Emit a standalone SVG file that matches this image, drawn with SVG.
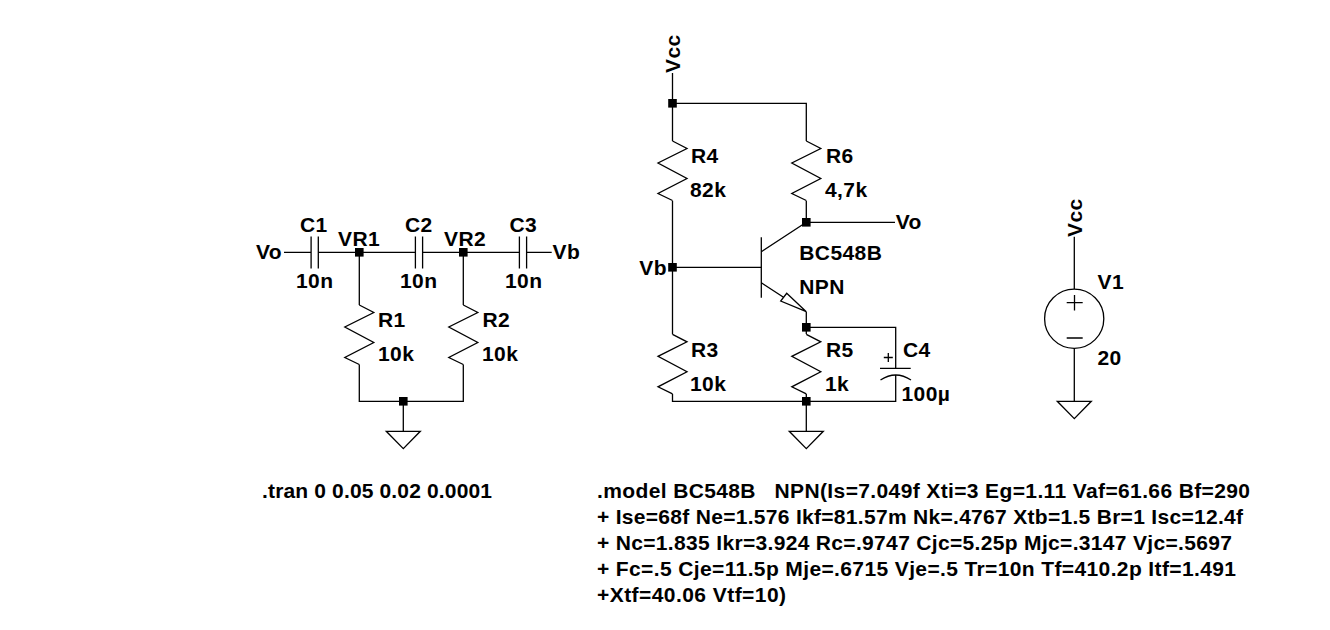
<svg xmlns="http://www.w3.org/2000/svg" width="1330" height="630" viewBox="0 0 1330 630">
<style>
text{font-family:"Liberation Sans",Arial,sans-serif;font-weight:bold;font-size:21px;letter-spacing:.4px;fill:#000;white-space:pre}
#directives text{letter-spacing:0}
.s{fill:none;stroke:#000;stroke-width:1.3}
.d{fill:#000;stroke:none}
</style>
<defs>
<path id="res" class="s" d="M0 0L14.5 7.5L-14.5 22L14.5 37.5L-14.5 52.5L0 59.5"/>
<path id="gnd" class="s" d="M-17 0H17L0 17.3Z"/>
<path id="cap" class="s" d="M-3.6 -16V16M3.6 -16V16"/>
<rect id="dot" class="d" x="-4.3" y="-4.3" width="8.6" height="8.6"/>
</defs>
<rect width="1330" height="630" fill="#fff"/>
<g id="connectors">
<path class="s" d="M284 252.3H311M318.4 252.3H415.7M422.4 252.3H519.3M526.7 252.3H551.7"/>
<path class="s" d="M359.3 252.3V305M463.3 252.3V305M359.3 364.5V401.3H463.3V364.5M403.3 401.3V431.3"/>
<path class="s" d="M672.5 73V141M672.5 103.3H806.3V141M672.5 200.7V334.3M806.3 200.7V222.3M806.3 222.3H895M672.5 394V401.3H895.7V375M806.3 394V431.3"/>
<path class="s" d="M672.5 267.3H761.3M806.3 222.3L761.3 251.7M806.3 311.7V334M806.3 327.3H895.7V368.3"/>
<path class="s" d="M1074.3 236.7V289M1074.3 348.3V401.3"/>
</g>
<g id="C1"><use href="#cap" x="314.7" y="252.5"/><text x="300" y="232">C1</text><text x="296" y="287.5">10n</text></g>
<g id="C2"><use href="#cap" x="419" y="252.5"/><text x="405" y="232">C2</text><text x="400" y="287.5">10n</text></g>
<g id="C3"><use href="#cap" x="523" y="252.5"/><text x="509.5" y="232">C3</text><text x="505" y="287.5">10n</text></g>
<g id="R1"><use href="#res" x="359.3" y="305"/><text x="378" y="326.5">R1</text><text x="378" y="361">10k</text></g>
<g id="R2"><use href="#res" x="463.3" y="305"/><text x="482.5" y="326.5">R2</text><text x="482" y="361">10k</text></g>
<g id="R3"><use href="#res" x="672.5" y="334.3"/><text x="691" y="356.5">R3</text><text x="690" y="391">10k</text></g>
<g id="R4"><use href="#res" x="672.5" y="141"/><text x="691" y="162.5">R4</text><text x="690" y="196.5">82k</text></g>
<g id="R5"><use href="#res" x="806.3" y="334.3"/><text x="826" y="356.5">R5</text><text x="825" y="391">1k</text></g>
<g id="R6"><use href="#res" x="806.3" y="141"/><text x="826" y="162.5">R6</text><text x="825" y="196.5">4,7k</text></g>
<g id="C4">
<path class="s" d="M880 368.3H910.7M880.5 380Q895.7 370 911 380M888.3 353V362M883.8 357.5H892.8"/>
<text x="903" y="356.5">C4</text><text x="901.5" y="401">100µ</text>
</g>
<g id="Q1">
<path class="s" d="M761.3 237.3V297.7M761.3 282.7L783.5 297.2M806.3 311.7L786.7 293.3L780.7 301Z"/>
<text x="799.3" y="260">BC548B</text><text x="799.3" y="293.5">NPN</text>
</g>
<g id="V1">
<circle class="s" cx="1074.2" cy="318.7" r="29.6"/>
<path class="s" d="M1074.5 295V310.5M1066.7 302.7H1082.7M1066.7 338H1082.7"/>
<text x="1097.5" y="289">V1</text><text x="1097.5" y="364.5">20</text>
</g>
<g id="gnd1"><use href="#gnd" x="403.3" y="431.3"/></g>
<g id="gnd2"><use href="#gnd" x="806.3" y="431.3"/></g>
<g id="gnd3"><use href="#gnd" x="1074.3" y="401.3"/></g>
<g id="junctions">
<use href="#dot" x="359.3" y="252.3"/><use href="#dot" x="463.3" y="252.3"/><use href="#dot" x="403.3" y="401.3"/>
<use href="#dot" x="672.5" y="103.3"/><use href="#dot" x="806.3" y="222.3"/><use href="#dot" x="672.5" y="267.3"/>
<use href="#dot" x="806.3" y="327.3"/><use href="#dot" x="806.3" y="401.3"/>
</g>
<g id="net-labels">
<text x="256" y="259">Vo</text>
<text x="338" y="246">VR1</text>
<text x="444" y="246">VR2</text>
<text x="552.5" y="259">Vb</text>
<text x="639.3" y="274.5">Vb</text>
<text x="895.7" y="229">Vo</text>
<text transform="translate(680 73) rotate(-90)">Vcc</text>
<text transform="translate(1082.3 237) rotate(-90)">Vcc</text>
</g>
<g id="directives">
<text x="262" y="498" textLength="230">.tran 0 0.05 0.02 0.0001</text>
<text x="597" y="498" textLength="653">.model BC548B   NPN(Is=7.049f Xti=3 Eg=1.11 Vaf=61.66 Bf=290</text>
<text x="597" y="524" textLength="646">+ Ise=68f Ne=1.576 Ikf=81.57m Nk=.4767 Xtb=1.5 Br=1 Isc=12.4f</text>
<text x="597" y="550" textLength="635">+ Nc=1.835 Ikr=3.924 Rc=.9747 Cjc=5.25p Mjc=.3147 Vjc=.5697</text>
<text x="597" y="576" textLength="639">+ Fc=.5 Cje=11.5p Mje=.6715 Vje=.5 Tr=10n Tf=410.2p Itf=1.491</text>
<text x="597" y="602" textLength="189">+Xtf=40.06 Vtf=10)</text>
</g>
</svg>
